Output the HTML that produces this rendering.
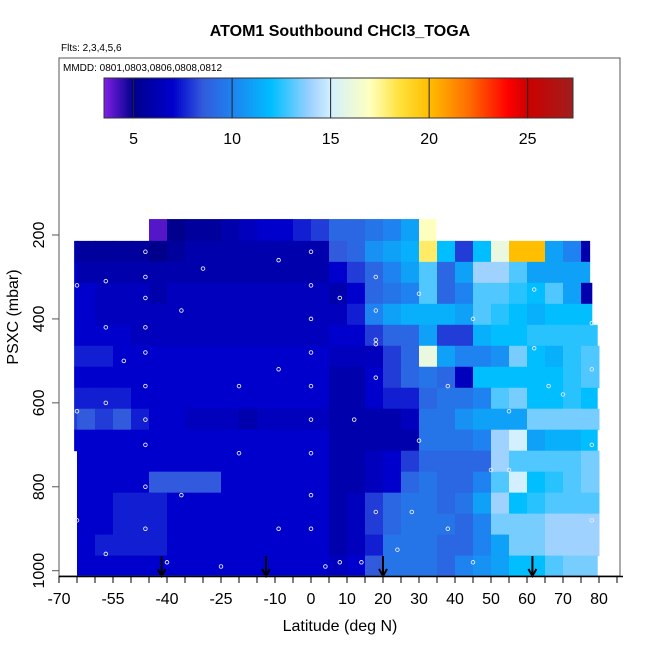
<!DOCTYPE html>
<html><head><meta charset="utf-8"><style>
html,body{margin:0;padding:0;background:#fff;}
svg{display:block;font-family:"Liberation Sans",sans-serif;}
</style></head><body>
<svg id="chart" width="650" height="650" viewBox="0 0 650 650" xmlns="http://www.w3.org/2000/svg">
<g id="heat"></g>
<g id="pts"></g>
<g id="arrows"></g>
<g id="axes"></g>
<g id="legend"></g>
<text x="340" y="36" text-anchor="middle" font-size="16" font-weight="bold">ATOM1 Southbound CHCl3_TOGA</text>
<text x="61" y="51" font-size="10">Flts: 2,3,4,5,6</text>
<text x="340" y="631" text-anchor="middle" font-size="16">Latitude (deg N)</text>
<text transform="translate(18,317) rotate(-90)" text-anchor="middle" font-size="16">PSXC (mbar)</text>
</svg>
<script>
// ---- data ----
const latBins = [-70,-65,-60,-55,-50,-45,-40,-35,-30,-25,-20,-15,-10,-5,0,5,10,15,20,25,30,35,40,45,50,55,60,65,70,75];
const pTop = [162,214,264,314,364,414,464,514,564,614,664,714,764,814,864,914,964];
const pBot = [214,264,314,364,414,464,514,564,614,664,714,764,814,864,914,964,1014];
const latMin = [-45.8,-65.8,-65.8,-65.8,-65.8,-65.8,-65.8,-65.8,-65.8,-65.8,-65.8,-65,-65,-65,-65,-65,-65];
const latMax = [34.7,77.4,77.4,78.0,78.0,79.5,80.2,80.2,79.5,80.2,79.5,80,80,80,80,80,79.5];
const N = null;
const r0  = [N,N,N,N,N,4,5,5.5,5.5,6,6.5,7,7,7.5,8,9,9,9.5,10,11,17,N,N,N,N,N,N,N,N,N];
const r1  = [6,5.5,5.5,5.5,5.5,5,5.5,6,6,6,6,6,6,6,6,8.5,9,10.5,11,11.5,18,12,8,12,16,20,20,11,10,6];
const r2  = [7,6,6,6,6,6,6,6,6,6,6,6,6,6,6,7,8,9,10,11,13,9,11,14,14,13,11,11,11,11];
const r3  = [7,7,6.5,6.5,6.5,6,6.5,6.5,6.5,6.5,6.5,6.5,6.5,6.5,6.5,6,7,9,9.5,10,13,9,10,13,13,12.5,12,13,11,6];
const r4  = [7,7,6.5,6.5,6.5,6.5,6.5,6.5,6.5,6.5,6.5,6.5,6.5,6.5,6.5,6.5,7.5,10,11,11.5,11.5,11.5,11,13,12.5,12,11.5,12,12,12];
const r5  = [7,7,7,7,6.5,6.5,6.5,6.5,6.5,6.5,6.5,6.5,6.5,6.5,6.5,7,7,8,9,9,11,8,8,11.5,12,12,12.5,12.5,12.5,12.5];
const r6  = [7.5,7.5,7.5,7,7,7,7,7,7,7,7,7,7,7,7,6.5,6.5,6.5,8,9,16,11,10,10,10.5,13.5,12,11.5,12.5,13];
const r7  = [7,7,7,7,7,7,7,7,7,7,7,7,7,7,7,6,6,7,8,9,9.5,9,6.5,12,12,12,12,12,12.5,13];
const r8  = [7.5,7.5,7.5,7.5,7,7,7,7,7,7,7,7,7,7,7,6,6,7,7.5,7.5,9,9.5,9.5,10,13,13.5,12,12,12.5,12];
const r9  = [8,8.5,8,8.5,7.5,7,7,6.5,6.5,6.5,6,6.5,6.5,6.5,6.5,6,6,6,6,6.5,9.5,9.5,10.5,11,11,11,13.5,13.5,13.5,13.5];
const r10 = [7,7,7,7,7,7,7,7,7,7,7,7,7,7,7,6,6,6,6,6,9.5,9.5,9.5,10,14,15,11,11.5,11.5,12];
const r11 = [7,7,7,7,7,7,7,7,7,7,7,7,7,7,7,6,6,6.5,7,8,9,9,9,9,14,13,13,13,13,13.5];
const r12 = [7,7,7,7,7,8.5,8.5,8.5,8.5,7,7,7,7,7,7,6,6,6.5,7,9,9.5,9,9,10,13,15,12,12.5,13,13.5];
const r13 = [7,7,7,7.5,7.5,7.5,7,7,7,7,7,7,7,7,7,6,6.5,8,9,9.5,9.5,9,9.5,11,14,12,12.5,13,13,13];
const r14 = [7,7,7,7.5,7.5,7.5,7,7,7,7,7,7,7,7,7,6,6.5,8,9,9.5,9.5,9.5,9,10,13.5,13.5,13.5,14,14,14];
const r15 = [7,7,7.5,7.5,7.5,7.5,7,7,7,7,7,7,7,7,7,6,6.5,7.5,9.5,9.5,9.5,9,9,10,11,13.5,13.5,14,14,14];
const r16 = [7,7,7,7,7,7,7,7,7,7,7,7,7,7,7,6.5,7,8.5,9.5,9.5,9.5,9,10,10.5,11,12,12,13,13.5,13.5];
const rows = [r0,r1,r2,r3,r4,r5,r6,r7,r8,r9,r10,r11,r12,r13,r14,r15,r16];
const xTicks = [-70,-55,-40,-25,-10,0,10,20,30,40,50,60,70,80];
const yTicks = [200,400,600,800,1000];
const cbTicks = [5,10,15,20,25];
const cbMin = 3.5, cbMax = 27.3;
const arrowLats = [-41.5,-12.5,20,61.5];
const ptLat = [-46,-46,-46,-46,-46,-46,-46,-46,-46,-46,-57,-57,-57,-57,-52,-36,-36,-30,-20,-20,-9,-9,-9,0,0,0,0,0,0,0,0,0,8,8,12,18,18,18,18,18,18,24,30,30,38,38,45,45,55,55,62,62,70,78,78,78,78,-65,-65,-65,-40,-25,4,14,28,50,66];
const ptP = [240,300,350,420,480,560,640,700,800,900,310,420,600,960,500,380,820,280,560,720,260,520,900,240,320,400,480,560,640,720,820,900,980,350,640,450,300,380,460,540,860,950,690,340,900,560,980,400,760,620,330,470,580,410,520,700,880,320,620,880,980,990,990,980,860,760,560,980];
// ---- scales ----
const X0=59, PX=3.6, Y0=235, PY=(570.7-235)/800;
const xs = lat => X0 + (lat+70)*PX;
const ys = p => Y0 + (p-200)*PY;
const stops = [[3.5,[128,32,230]],[5,[0,0,140]],[7,[0,0,205]],[8.5,[50,90,220]],[10,[30,130,240]],[12,[0,190,255]],[14,[160,210,255]],[15,[210,240,255]],[17,[255,255,190]],[18.5,[255,225,60]],[20,[255,190,0]],[22,[255,110,0]],[24,[255,0,0]],[25,[205,0,0]],[27.3,[160,30,30]]];
function col(v){
  if(v<=stops[0][0]) return 'rgb('+stops[0][1]+')';
  for(let i=1;i<stops.length;i++){
    if(v<=stops[i][0]){const a=stops[i-1],b=stops[i],t=(v-a[0])/(b[0]-a[0]);
      return 'rgb('+a[1].map((c,k)=>Math.round(c+(b[1][k]-c)*t)).join(',')+')';}
  }
  return 'rgb('+stops[stops.length-1][1]+')';
}
const NS='http://www.w3.org/2000/svg';
function mk(tag,attrs,parent){const e=document.createElementNS(NS,tag);for(const k in attrs)e.setAttribute(k,attrs[k]);parent.appendChild(e);return e;}
// ---- heatmap ----
const heat=document.getElementById('heat');
rows.forEach((row,ri)=>{
  row.forEach((v,bi)=>{
    if(v===null) return;
    let l0=Math.max(latBins[bi],latMin[ri]), l1=Math.min(latBins[bi]+5,latMax[ri]);
    if(l1<=l0) return;
    const r=mk('rect',{x:xs(l0),y:ys(pTop[ri]),width:xs(l1)-xs(l0)+0.5,height:ys(pBot[ri])-ys(pTop[ri])+0.5,fill:col(v)},heat);
    
    
  });
});
// ---- points ----
const pts=document.getElementById('pts');
ptLat.forEach((la,i)=>{
  const c=mk('circle',{cx:xs(la),cy:ys(ptP[i]),r:1.8,fill:'none',stroke:'#e8e8ff','stroke-width':0.9},pts);
  
  
});
// ---- arrows ----
const ar=document.getElementById('arrows');
arrowLats.forEach(la=>{
  const x=xs(la);
  const g=mk('g',{},ar);
  
  
  mk('line',{x1:x,y1:556,x2:x,y2:576,stroke:'#000','stroke-width':2},g);
  mk('path',{d:`M${x-4},${569} L${x},${576} L${x+4},${569}`,fill:'none',stroke:'#000','stroke-width':2},g);
});
// ---- axes ----
const ax=document.getElementById('axes');
mk('rect',{x:59,y:58,width:561,height:518,fill:'none',stroke:'#555','stroke-width':1},ax);
mk('line',{x1:59,y1:576.5,x2:623,y2:576.5,stroke:'#000','stroke-width':1.5},ax);
for(let la=-70;la<=85;la+=5){mk('line',{x1:xs(la),y1:576,x2:xs(la),y2:583,stroke:'#000','stroke-width':1},ax);}
xTicks.forEach(t=>{
  const e=mk('text',{x:xs(t),y:604,'text-anchor':'middle','font-size':16},ax);
  e.textContent=String(t);
  
  
});
yTicks.forEach(t=>{
  const y=ys(t);
  mk('line',{x1:52,y1:y,x2:59,y2:y,stroke:'#555','stroke-width':1},ax);
  const e=mk('text',{transform:`translate(44,${y}) rotate(-90)`,'text-anchor':'middle','font-size':16},ax);
  e.textContent=String(t);
  
  
});
// ---- legend / colorbar ----
const lg=document.getElementById('legend');
const lt=mk('text',{x:63,y:71,'font-size':10},lg);
lt.textContent='MMDD: 0801,0803,0806,0808,0812';


const CB0=104,CB1=573;
const cx=v=>CB0+(v-cbMin)/(cbMax-cbMin)*(CB1-CB0);
for(let v=cbMin;v<cbMax;v+=0.1){
  mk('rect',{x:cx(v),y:78,width:(CB1-CB0)/(cbMax-cbMin)*0.1+0.4,height:40,fill:col(v+0.05)},lg);
}
const cbf=mk('rect',{x:CB0,y:78,width:CB1-CB0,height:40,fill:'none',stroke:'#333','stroke-width':1},lg);


cbTicks.forEach(t=>{
  mk('line',{x1:cx(t),y1:78,x2:cx(t),y2:118,stroke:'#222','stroke-width':1},lg);
  const e=mk('text',{x:cx(t),y:144,'text-anchor':'middle','font-size':16},lg);
  e.textContent=String(t);
  
  
});
</script>
</body></html>
